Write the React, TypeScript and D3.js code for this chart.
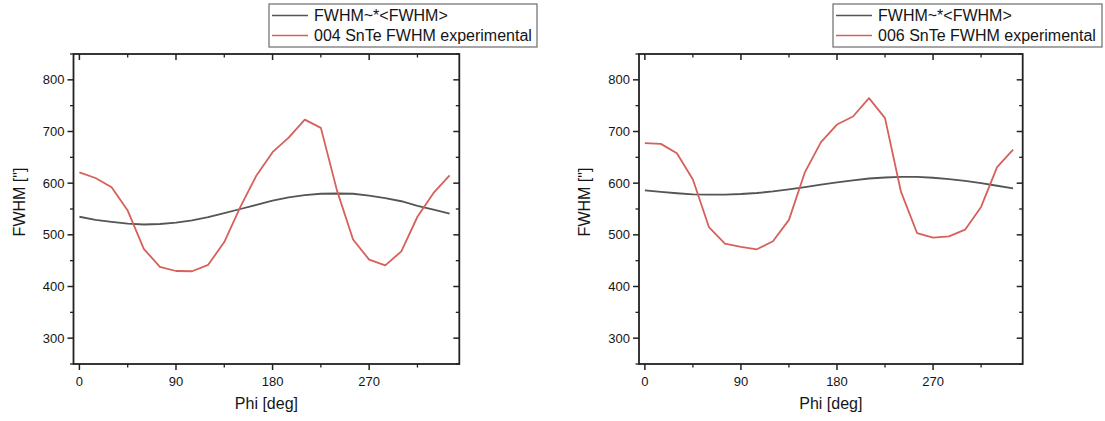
import React from "react";
import * as d3 from "d3";

const phi = [0, 15, 30, 45, 60, 75, 90, 105, 120, 135, 150, 165, 180, 195, 210, 225, 240, 255, 270, 285, 300, 315, 330, 345];

const fitLeft = [535, 529, 525, 521.5, 520, 521, 523.5, 528, 534.5, 542, 550, 558, 566, 572.5, 577, 579.5, 580, 579.5, 576, 571, 565, 556, 549, 541];
const expLeft = [621, 610, 592, 547, 473, 438, 430, 429.5, 442, 486, 554, 615, 660, 688, 723, 707, 586, 491, 452, 441, 468, 535, 581, 615];

const fitRight = [586, 583, 580.5, 578.5, 578, 578, 579, 581, 584, 588, 592.5, 597, 601.5, 605.5, 609, 611, 612, 612, 610.5, 608, 604.5, 600, 595, 590];
const expRight = [677.5, 676, 658, 607, 515, 483, 476.5, 472, 487.5, 529, 621.5, 679.5, 713.5, 729, 764.5, 726, 583, 503.5, 494.5, 497, 510, 554, 631, 665];

const xTicks = [0, 90, 180, 270];
const xMinor = [45, 135, 225, 315];
const yTicks = [300, 400, 500, 600, 700, 800];
const yMinor = [250, 350, 450, 550, 650, 750, 850];

const legendFit = "FWHM~*<FWHM>";
const legendLeft = "004 SnTe FWHM experimental";
const legendRight = "006 SnTe FWHM experimental";
const xTitle = "Phi [deg]";
const yTitle = 'FWHM ["]';

const FONT = "'Liberation Sans', Arial, sans-serif";
const GRAY = "#555555";
const RED = "#d6605a";
const AXIS = "#222";
const TEXT = "#151515";

type PanelProps = {
  x0: number;
  x1: number;
  fit: number[];
  exp: number[];
  legendX0: number;
  legendX1: number;
  label: string;
};

function Panel({ x0, x1, fit, exp, legendX0, legendX1, label }: PanelProps) {
  const top = 54;
  const bottom = 364;
  const xs = d3.scaleLinear().domain([-5.5, 354]).range([x0, x1]);
  const ys = d3.scaleLinear().domain([250, 850]).range([bottom, top]);
  const lineGen = (vals: number[]) =>
    d3
      .line<number>()
      .x((_, i) => xs(phi[i]))
      .y((v) => ys(v))(vals) || "";
  const major = 6;
  const minor = 3.5;
  return (
    <g>
      <path d={lineGen(fit)} fill="none" stroke={GRAY} strokeWidth={1.8} />
      <path d={lineGen(exp)} fill="none" stroke={RED} strokeWidth={1.8} strokeLinejoin="round" />
      <rect x={x0} y={top} width={x1 - x0} height={bottom - top} fill="none" stroke={AXIS} strokeWidth={1.8} />
      {xTicks.map((t) => (
        <g key={"xt" + t}>
          <line x1={xs(t)} x2={xs(t)} y1={bottom} y2={bottom + major} stroke={AXIS} strokeWidth={1.5} />
          <line x1={xs(t)} x2={xs(t)} y1={top} y2={top + major} stroke={AXIS} strokeWidth={1.5} />
          <text x={xs(t)} y={bottom + 22} textAnchor="middle" fontFamily={FONT} fontSize={13} fill={TEXT}>
            {t}
          </text>
        </g>
      ))}
      {xMinor.map((t) => (
        <g key={"xm" + t}>
          <line x1={xs(t)} x2={xs(t)} y1={bottom} y2={bottom + minor} stroke={AXIS} strokeWidth={1.3} />
          <line x1={xs(t)} x2={xs(t)} y1={top} y2={top + minor} stroke={AXIS} strokeWidth={1.3} />
        </g>
      ))}
      {yTicks.map((t) => (
        <g key={"yt" + t}>
          <line x1={x0 - major} x2={x0} y1={ys(t)} y2={ys(t)} stroke={AXIS} strokeWidth={1.5} />
          <line x1={x1 - major} x2={x1} y1={ys(t)} y2={ys(t)} stroke={AXIS} strokeWidth={1.5} />
          <text x={x0 - 9} y={ys(t) + 4.5} textAnchor="end" fontFamily={FONT} fontSize={13} fill={TEXT}>
            {t}
          </text>
        </g>
      ))}
      {yMinor.map((t) => (
        <g key={"ym" + t}>
          <line x1={x0 - minor} x2={x0} y1={ys(t)} y2={ys(t)} stroke={AXIS} strokeWidth={1.3} />
          <line x1={x1 - minor} x2={x1} y1={ys(t)} y2={ys(t)} stroke={AXIS} strokeWidth={1.3} />
        </g>
      ))}
      <text x={(x0 + x1) / 2} y={409} textAnchor="middle" fontFamily={FONT} fontSize={16} fill={TEXT}>
        {xTitle}
      </text>
      <text
        transform={`translate(${x0 - 49},${202}) rotate(-90)`}
        textAnchor="middle"
        fontFamily={FONT}
        fontSize={16}
        fill={TEXT}
      >
        {yTitle}
      </text>
      <rect x={legendX0} y={4} width={legendX1 - legendX0} height={43} fill="#fff" stroke="#777" strokeWidth={1.3} />
      <line x1={legendX0 + 3} x2={legendX0 + 39} y1={15.5} y2={15.5} stroke={GRAY} strokeWidth={1.5} />
      <line x1={legendX0 + 3} x2={legendX0 + 39} y1={35.5} y2={35.5} stroke={RED} strokeWidth={1.5} />
      <text x={legendX0 + 45} y={21} fontFamily={FONT} fontSize={16} fill={TEXT}>
        {legendFit}
      </text>
      <text x={legendX0 + 45} y={41} fontFamily={FONT} fontSize={16} fill={TEXT}>
        {label}
      </text>
    </g>
  );
}

export default function App() {
  return (
    <svg
      width={1105}
      height={421}
      viewBox="0 0 1105 421"
      style={{ position: "absolute", left: 0, top: 0, background: "#fff" }}
    >
      <rect x={0} y={0} width={1105} height={421} fill="#fff" />
      <Panel x0={73.5} x1={459.3} fit={fitLeft} exp={expLeft} legendX0={269} legendX1={537} label={legendLeft} />
      <Panel x0={639} x1={1022.7} fit={fitRight} exp={expRight} legendX0={833} legendX1={1102} label={legendRight} />
    </svg>
  );
}
